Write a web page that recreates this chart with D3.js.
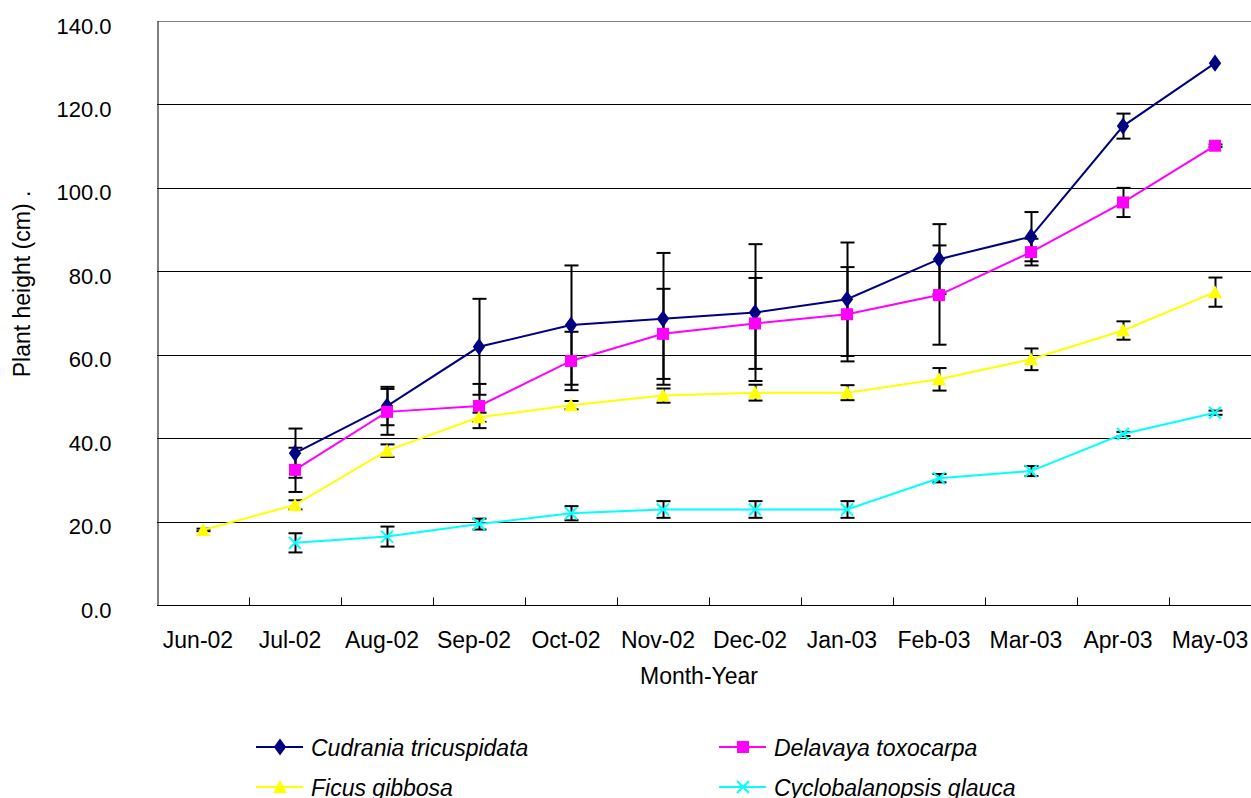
<!DOCTYPE html>
<html>
<head>
<meta charset="utf-8">
<script src="https://cdn.jsdelivr.net/npm/d3@7"></script>
<style>
  html, body { margin: 0; padding: 0; background: #fff; }
  svg { display: block; }
  text { font-family: "Liberation Sans", Arial, sans-serif; fill: #000; }
</style>
</head>
<body>
<svg id="chart" width="1251" height="798"></svg>
<script>
// Monthly sampling dates
const months = ["Jun-02", "Jul-02", "Aug-02", "Sep-02", "Oct-02", "Nov-02",
                "Dec-02", "Jan-03", "Feb-03", "Mar-03", "Apr-03", "May-03"];

// Mean plant height (cm) and error; null = not measured
const cudraniaMean = [null, 36.4, 47.7, 61.9, 67.1, 68.6, 70.1, 73.3, 82.9, 88.3, 114.8, 129.9];
const cudraniaErr  = [null, 5.9, 4.6, 11.5, 14.3, 15.8, 16.4, 13.6, 8.4, 5.9, 3.0, 0];

const delavayaMean = [null, 32.4, 46.3, 47.7, 58.5, 65.0, 67.5, 69.7, 74.3, 84.6, 96.5, 110.1];
const delavayaErr  = [null, 5.3, 5.5, 5.3, 7.0, 10.8, 10.9, 11.3, 11.9, 3.2, 3.5, 0.3];

const ficusMean = [18.0, 24.0, 37.0, 45.0, 47.9, 50.2, 50.9, 50.9, 54.1, 58.9, 65.8, 75.0];
const ficusErr  = [0.3, 1.1, 1.5, 1.1, 1.0, 1.7, 1.9, 1.8, 2.7, 2.6, 2.2, 3.5];

const cyclobalanopsisMean = [null, 14.9, 16.4, 19.4, 22.0, 22.9, 22.9, 22.9, 30.4, 32.1, 41.0, 46.1];
const cyclobalanopsisErr  = [null, 2.3, 2.4, 1.3, 1.7, 2.0, 2.0, 2.0, 1.0, 1.2, 0.5, 0.5];

const yTicks = [0, 20, 40, 60, 80, 100, 120, 140];

const series = [
  { name: "Cudrania tricuspidata", mean: cudraniaMean, err: cudraniaErr, color: "#000080", marker: "diamond" },
  { name: "Delavaya toxocarpa", mean: delavayaMean, err: delavayaErr, color: "#FF00FF", marker: "square" },
  { name: "Ficus gibbosa", mean: ficusMean, err: ficusErr, color: "#FFFF00", marker: "triangle" },
  { name: "Cyclobalanopsis glauca", mean: cyclobalanopsisMean, err: cyclobalanopsisErr, color: "#00FFFF", marker: "cross" }
];

const svg = d3.select("#chart");
const plot = { left: 157, right: 1261, top: 21, bottom: 605 };

const x = d3.scaleBand().domain(months).range([plot.left, plot.right]).padding(0);
const y = d3.scaleLinear().domain([0, 140]).range([plot.bottom, plot.top]);
const cx = m => x(m) + x.bandwidth() / 2;

// Horizontal gridlines
svg.append("g")
  .selectAll("line")
  .data(yTicks.filter(t => t > 0))
  .join("line")
  .attr("x1", plot.left).attr("x2", plot.right)
  .attr("y1", d => Math.round(y(d)) + 0.5).attr("y2", d => Math.round(y(d)) + 0.5)
  .attr("stroke", d => d === 140 ? "#808080" : "#000")
  .attr("stroke-width", 1);

// Y axis
const yAxis = svg.append("g")
  .attr("transform", `translate(${plot.left + 0.5},0)`)
  .call(d3.axisLeft(y).tickValues(yTicks).tickSize(0).tickPadding(46).tickFormat(d3.format(".1f")));
yAxis.select(".domain").attr("stroke", "#000").attr("stroke-width", 1);
yAxis.selectAll("text")
  .attr("font-size", 22)
  .attr("dy", "0.55em")
  .attr("font-family", "Liberation Sans, Arial, sans-serif");

// X axis with inward ticks at category boundaries
const xAxisG = svg.append("g").attr("transform", `translate(0,${Math.round(plot.bottom) + 0.5})`);
xAxisG.append("line")
  .attr("x1", plot.left).attr("x2", plot.right)
  .attr("stroke", "#000").attr("stroke-width", 1);
xAxisG.selectAll("line.tick")
  .data(months.slice(1))
  .join("line")
  .attr("class", "tick")
  .attr("x1", d => Math.round(x(d)) + 0.5).attr("x2", d => Math.round(x(d)) + 0.5)
  .attr("y1", 0).attr("y2", -8)
  .attr("stroke", "#000");
xAxisG.selectAll("text")
  .data(months)
  .join("text")
  .attr("x", d => cx(d) - 5)
  .attr("y", 42)
  .attr("text-anchor", "middle")
  .attr("font-size", 23)
  .text(d => d);

// Axis titles
svg.append("text")
  .attr("x", 699).attr("y", 684)
  .attr("text-anchor", "middle")
  .attr("font-size", 23)
  .text("Month-Year");

svg.append("text")
  .attr("transform", `translate(30,284) rotate(-90)`)
  .attr("text-anchor", "middle")
  .attr("font-size", 23)
  .text("Plant height (cm) .");

// Marker shapes
function drawMarker(g, type, color, px, py) {
  if (type === "diamond") {
    g.append("path").attr("d", d3.symbol(d3.symbolDiamond, 85)())
      .attr("transform", `translate(${px},${py}) scale(1.25,1)`)
      .attr("fill", color);
  } else if (type === "square") {
    g.append("rect").attr("x", px - 6).attr("y", py - 6).attr("width", 12).attr("height", 12)
      .attr("fill", color);
  } else if (type === "triangle") {
    g.append("path").attr("d", `M${px},${py - 7}L${px + 7},${py + 6}L${px - 7},${py + 6}Z`)
      .attr("fill", color);
  } else {
    g.append("path").attr("d", `M${px - 6},${py - 6}L${px + 6},${py + 6}M${px - 6},${py + 6}L${px + 6},${py - 6}`)
      .attr("stroke", color).attr("stroke-width", 2).attr("fill", "none");
  }
}

const chartLayer = svg.append("g");

// Error bars (mean ± error)
series.forEach(s => {
  const g = chartLayer.append("g");
  months.forEach((m, i) => {
    const v = s.mean[i], e = s.err[i];
    if (v == null || !e) return;
    const px = Math.round(cx(m)) + 0.5;
    const y1 = y(v + e), y2 = y(v - e);
    g.append("line").attr("x1", px).attr("x2", px).attr("y1", y1).attr("y2", y2)
      .attr("stroke", "#000").attr("stroke-width", 2);
    [y1, y2].forEach(yy => {
      g.append("line").attr("x1", px - 7).attr("x2", px + 7).attr("y1", yy).attr("y2", yy)
        .attr("stroke", "#000").attr("stroke-width", 2);
    });
  });
});

// Lines and markers
const line = d3.line()
  .defined(d => d.v != null)
  .x(d => cx(d.m))
  .y(d => y(d.v));

series.forEach(s => {
  const pts = months.map((m, i) => ({ m, v: s.mean[i] }));
  const g = chartLayer.append("g");
  g.append("path").datum(pts)
    .attr("d", line)
    .attr("fill", "none")
    .attr("stroke", s.color)
    .attr("stroke-width", 2);
  pts.filter(p => p.v != null).forEach(p => drawMarker(g, s.marker, s.color, cx(p.m), y(p.v)));
});

// Legend
const legendPos = [
  { x: 256, y: 747 }, { x: 719, y: 747 },
  { x: 256, y: 787 }, { x: 719, y: 787 }
];
series.forEach((s, i) => {
  const p = legendPos[i];
  const g = svg.append("g");
  g.append("line").attr("x1", p.x).attr("x2", p.x + 47).attr("y1", p.y).attr("y2", p.y)
    .attr("stroke", s.color).attr("stroke-width", 2);
  drawMarker(g, s.marker, s.color, p.x + 24, p.y);
  g.append("text")
    .attr("x", p.x + 55).attr("y", p.y + 9)
    .attr("font-size", 23)
    .attr("font-style", "italic")
    .text(s.name);
});
</script>
</body>
</html>
